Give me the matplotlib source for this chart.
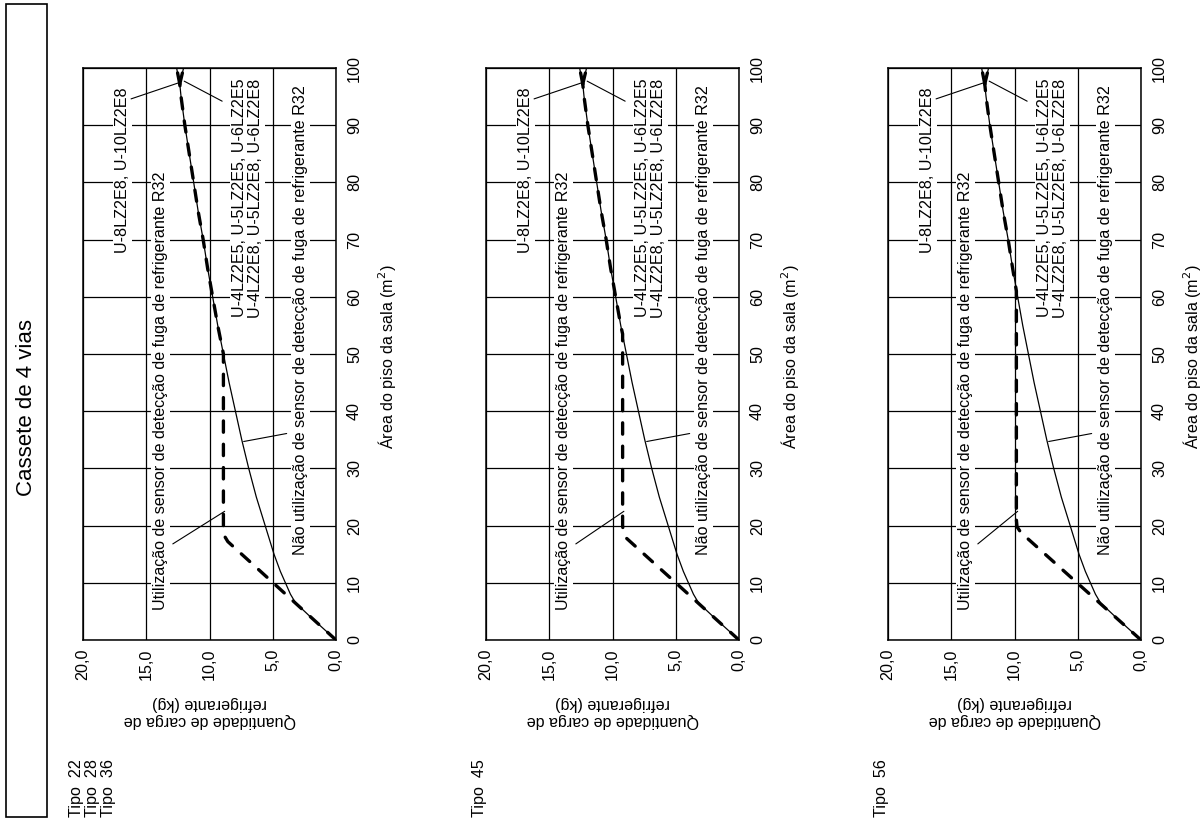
import matplotlib.pyplot as plt
from matplotlib.patches import Rectangle
import numpy as np

plt.rcParams['font.family'] = ['Liberation Sans', 'DejaVu Sans']

# Dados (área do piso em m², carga em kg)
area_ticks = [0, 10, 20, 30, 40, 50, 60, 70, 80, 90, 100]
carga_ticks = [0, 5, 10, 15, 20]
carga_labels = ['0,0', '5,0', '10,0', '15,0', '20,0']

# Curva sem sensor (igual para os três tipos)
area_sem = [0, 2, 4, 6.5, 8, 10, 12, 15, 20, 25, 30, 35, 40, 45, 50,
            55, 60, 65, 70, 75, 80, 85, 90, 95, 97.2]
carga_sem = [0, 1.0, 2.0, 3.2, 3.6, 4.0, 4.4, 4.9, 5.6, 6.3, 6.9, 7.45, 7.95,
             8.45, 8.9, 9.35, 9.75, 10.15, 10.5, 10.9, 11.25, 11.6, 11.95,
             12.25, 12.35]
# Ramos finais
area_ramo = [97.2, 100]
carga_ramo_8_10 = [12.35, 12.6]
carga_ramo_4_6 = [12.35, 12.05]

# Curvas com sensor (rampa + patamar), por painel
tipos = ['Tipo  22\nTipo  28\nTipo  36', 'Tipo  45', 'Tipo  56']
area_sensor = [
    [0, 17.2, 18.3, 19.5, 50],
    [0, 17.8, 18.8, 20.0, 53.5],
    [0, 18.8, 19.8, 21.0, 61],
]
carga_sensor = [
    [0, 8.55, 8.85, 8.9, 8.9],
    [0, 8.9, 9.15, 9.2, 9.2],
    [0, 9.5, 9.8, 9.85, 9.85],
]

fig = plt.figure(figsize=(12.03, 8.21), dpi=100)
W, H = 1203, 821

lefts = [83, 486, 888]
fs = 11.6
bb = dict(facecolor='white', edgecolor='none', pad=1.5)
dash = dict(color='black', lw=2.4, linestyle=(0, (3.4, 3.6)),
            dash_capstyle='round', zorder=5)

for i, left in enumerate(lefts):
    ax = fig.add_axes([left / W, 1 - 640 / H, 253 / W, 572 / H])
    ax.set_xlim(20, 0)
    ax.set_ylim(0, 100)
    ax.set_xticks(carga_ticks)
    ax.set_xticklabels(carga_labels, rotation=90, fontsize=fs)
    ax.set_yticks(area_ticks)
    ax.yaxis.tick_right()
    ax.set_yticklabels([str(a) for a in area_ticks], rotation=90,
                       fontsize=fs, va='center')
    ax.tick_params(length=0)
    ax.tick_params(axis='x', pad=6)
    ax.tick_params(axis='y', pad=8)
    ax.grid(True, color='black', lw=0.9)
    ax.set_axisbelow(True)
    for s in ax.spines.values():
        s.set_linewidth(1.1)

    # curva sem sensor
    ax.plot(carga_sem, area_sem, color='black', lw=0.9, zorder=4)
    ax.plot(carga_ramo_8_10, area_ramo, color='black', lw=0.9, zorder=4)
    ax.plot(carga_ramo_4_6, area_ramo, color='black', lw=0.9, zorder=4)

    # curva com sensor: rampa + patamar, depois segue a curva sem sensor
    a_j = area_sensor[i][-1]
    a_s = np.array(area_sem)
    c_s = np.array(carga_sem)
    ac = list(area_sensor[i]) + list(a_s[a_s > a_j])
    cc = list(carga_sensor[i]) + list(c_s[a_s > a_j])
    ax.plot(cc, ac, **dash)
    ax.plot(carga_ramo_8_10, area_ramo, **dash)
    ax.plot(carga_ramo_4_6, area_ramo, **dash)

    # textos
    ax.text(16.85, 96.6, 'U-8LZ2E8, U-10LZ2E8', rotation=90, ha='center',
            va='top', fontsize=fs, bbox=bb)
    ax.annotate('', xy=(12.45, 97.4), xytext=(16.2, 94.6),
                arrowprops=dict(arrowstyle='-', lw=0.8, shrinkA=0, shrinkB=0))
    ax.text(13.9, 5.2, 'Utilização de sensor de detecção de fuga de refrigerante R32',
            rotation=90, ha='center', va='bottom', fontsize=fs, bbox=bb)
    fl = carga_sensor[i][-1]
    ax.annotate('', xy=(fl - 0.1, 22.5), xytext=(12.9, 16.8),
                arrowprops=dict(arrowstyle='-', lw=0.8, shrinkA=0, shrinkB=0))
    ax.text(7.0, 98.2, 'U-4LZ2E5, U-5LZ2E5, U-6LZ2E5\nU-4LZ2E8, U-5LZ2E8, U-6LZ2E8',
            rotation=90, ha='center', va='top', fontsize=fs, bbox=bb,
            linespacing=1.05)
    ax.annotate('', xy=(12.0, 97.7), xytext=(9.0, 94.2),
                arrowprops=dict(arrowstyle='-', lw=0.8, shrinkA=0, shrinkB=0))
    ax.text(2.8, 14.9, 'Não utilização de sensor de detecção de fuga de refrigerante R32',
            rotation=90, ha='center', va='bottom', fontsize=fs, bbox=bb)
    ax.annotate('', xy=(7.3, 34.7), xytext=(3.9, 36.1),
                arrowprops=dict(arrowstyle='-', lw=0.8, shrinkA=0, shrinkB=0))

    ax.text(0.5, -0.126, 'Quantidade de carga de\nrefrigerante (kg)',
            rotation=180, ha='center', va='center', fontsize=fs,
            transform=ax.transAxes)
    ax.text(1.2, 0.495, 'Área do piso da sala (m$^2$)', rotation=90,
            ha='center', va='center', fontsize=fs, transform=ax.transAxes)

    fig.text((left - 14) / W, 1 - 817 / H, tipos[i], rotation=90, ha='left',
             va='bottom', fontsize=fs, multialignment='left', linespacing=1.1)

fig.patches.append(Rectangle((6 / W, 1 - 817 / H), 41 / W, 813 / H,
                             transform=fig.transFigure, fill=False,
                             lw=1.2, edgecolor='black'))
fig.text(27 / W, 1 - 407 / H, 'Cassete de 4 vias', rotation=90,
         ha='center', va='center', fontsize=16)

fig.savefig('out.png', dpi=100)
